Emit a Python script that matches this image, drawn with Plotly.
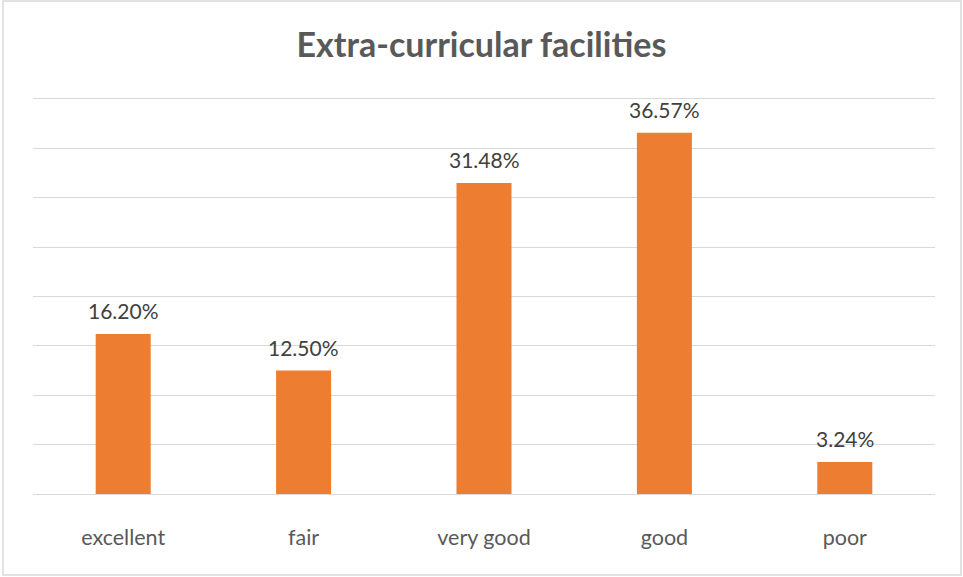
import plotly.graph_objects as go

categories = ["excellent", "fair", "very good", "good", "poor"]
values = [16.20, 12.50, 31.48, 36.57, 3.24]
labels = ["16.20%", "12.50%", "31.48%", "36.57%", "3.24%"]

fig = go.Figure()
fig.add_trace(go.Bar(
    x=categories, y=values,
    marker=dict(color="#ED7D31", line=dict(width=0)),
    hoverinfo="skip",
))

for c, v, t in zip(categories, values, labels):
    fig.add_annotation(x=c, y=v, text=t, showarrow=False, yanchor="bottom",
                       yshift=9, font=dict(family="Lato", size=21, color="#404040"))

W, H = 963, 577
L, R, T, B = 33, 28, 95, 83
pw, ph = W - L - R, H - T - B

fig.update_layout(
    width=W, height=H,
    margin=dict(l=L, r=R, t=T, b=B),
    paper_bgcolor="white", plot_bgcolor="white",
    bargap=0.695,
    showlegend=False,
    title=dict(text="<b>Extra-curricular facilities</b>", x=0.5, xanchor="center",
               y=1 - 45 / H, yanchor="middle", yref="container",
               font=dict(family="Lato", size=34, color="#595959")),
    xaxis=dict(showgrid=False, showline=False, ticks="outside", ticklen=24,
               tickcolor="rgba(0,0,0,0)",
               tickfont=dict(family="Lato", size=21.5, color="#595959")),
    yaxis=dict(range=[0, 40.4], tickvals=[0, 5, 10, 15, 20, 25, 30, 35, 40],
               showgrid=True, gridcolor="#D9D9D9", gridwidth=1,
               showticklabels=False, zeroline=True, zerolinecolor="#D9D9D9", zerolinewidth=1),
    shapes=[dict(type="rect", xref="paper", yref="paper",
                 x0=-30 / pw, x1=1 + 26 / pw, y0=-81 / ph, y1=1 + 94 / ph,
                 line=dict(color="#D9D9D9", width=1.5), fillcolor="rgba(0,0,0,0)", layer="below")],
)

fig.write_html("out.html", post_script="document.body.style.margin='0px';",
               config={"displayModeBar": False})
